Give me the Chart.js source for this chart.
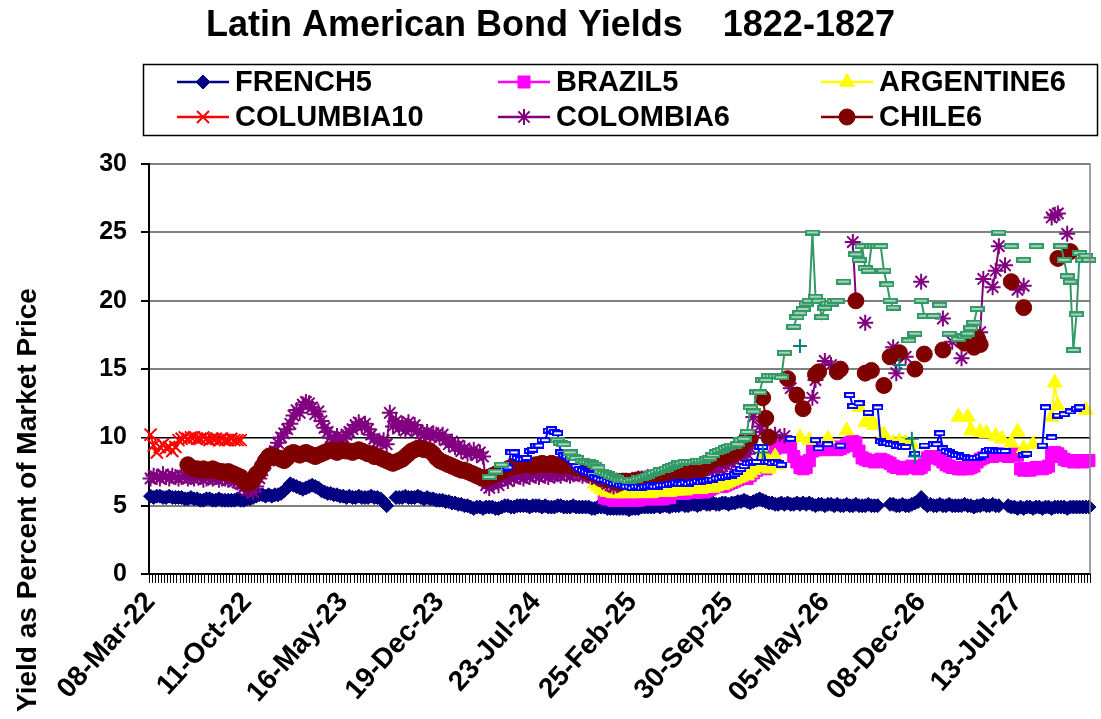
<!DOCTYPE html>
<html><head><meta charset="utf-8">
<script src="https://cdn.jsdelivr.net/npm/chart.js@4.4.1/dist/chart.umd.min.js"></script>
<style>html,body{margin:0;padding:0;background:#fff;}</style>
</head><body>
<canvas id="c" width="1101" height="719"></canvas>
<script>
const _ = null;
const chartTitle = 'Latin American Bond Yields    1822-1827';
const yAxisTitle = 'Yield as Percent of Market Price';
const firstWeekUTC = [1822, 2, 8];   // 08-Mar-1822, weekly quotations
const weekCount = 303;
const labelEvery = 31;
const yTickValues = [0, 5, 10, 15, 20, 25, 30];

// ---- series: first week index + weekly yields (null = no quotation) ----
const french5Start = 0;
const french5 = [
5.7,5.6,5.7,5.7,5.6,5.6,5.7,5.6,5.6,5.6,
5.6,5.5,5.5,5.6,5.5,5.5,5.4,5.4,5.5,5.5,
5.4,5.4,5.5,5.4,5.4,5.4,5.4,5.4,5.5,5.4,
5.4,5.5,5.5,5.6,5.7,5.8,5.8,5.7,5.8,5.7,
5.8,5.8,5.9,6.1,6.3,6.6,6.5,6.4,6.3,6.2,
6.3,6.4,6.5,6.4,6.3,6.1,6.0,5.9,5.9,5.8,
5.8,5.7,5.7,5.6,5.7,5.6,5.6,5.7,5.6,5.6,
5.6,5.7,5.6,5.6,5.5,5.3,5.0,_,_,5.6,
5.6,5.6,5.7,5.6,5.6,5.6,5.7,5.6,5.5,5.6,
5.5,5.5,5.4,5.4,5.4,5.3,5.3,5.2,5.2,5.1,
5.1,5.0,5.0,4.9,4.8,4.9,4.9,4.8,4.9,4.9,
4.9,4.8,4.8,4.9,5.0,5.0,4.9,4.9,5.0,5.0,
5.0,5.0,4.9,5.0,5.0,5.0,4.9,5.0,4.9,4.9,
4.9,5.0,5.0,4.9,4.9,4.9,5.0,4.9,4.9,4.9,
4.9,4.9,4.8,4.8,4.9,4.9,4.9,4.8,4.8,4.8,
4.8,4.8,4.8,4.8,4.7,4.8,4.8,4.8,4.9,4.9,
4.9,4.9,4.9,5.0,4.9,5.0,5.0,4.9,5.0,5.0,
5.0,5.1,5.0,5.0,5.1,5.1,5.0,5.1,5.2,5.1,
5.1,5.2,5.1,5.1,5.2,5.2,5.1,5.2,5.2,5.3,
5.3,5.4,5.3,5.2,5.3,5.4,5.5,5.4,5.3,5.2,
5.2,5.1,5.1,5.2,5.1,5.2,5.1,5.1,5.2,5.1,
5.2,5.1,5.2,5.1,5.0,5.1,5.1,5.0,5.1,5.1,
5.0,5.1,5.0,5.0,5.1,5.0,5.0,5.1,5.0,5.0,
5.0,5.1,5.0,5.0,5.0,_,_,_,5.1,5.1,
5.0,5.0,5.1,5.0,5.0,5.1,5.2,5.3,5.6,5.2,
5.0,5.1,5.0,5.0,5.1,5.0,5.0,5.1,5.0,5.0,
5.0,5.0,5.1,5.0,5.0,4.9,5.0,5.0,5.1,5.0,
5.0,5.1,5.0,5.0,_,_,5.0,4.9,4.9,4.8,
4.9,4.8,4.9,4.9,4.8,4.9,4.9,4.8,4.9,4.9,
4.8,4.9,4.9,4.9,4.9,4.8,4.9,4.9,4.9,4.9,
4.9,4.9,4.9
];

const brazil5Start = 146;
const brazil5 = [
5.6,5.5,5.5,5.4,
5.4,5.5,5.4,5.4,5.5,5.5,5.4,5.4,5.5,5.5,
5.6,5.5,5.5,5.6,5.5,5.5,5.6,5.6,5.9,5.9,
6.0,6.0,5.9,6.0,6.1,6.0,6.0,6.1,6.0,6.1,
6.2,6.3,6.4,6.5,6.4,6.5,6.6,6.7,6.8,6.9,
7.0,7.1,7.0,7.2,7.4,7.6,7.8,7.8,7.7,8.0,
8.6,9.2,9.3,9.4,9.3,9.5,9.3,8.6,8.2,7.8,
7.7,7.8,8.3,9.0,9.1,9.2,9.2,9.1,9.2,9.3,
9.2,9.1,9.2,9.3,9.4,9.6,9.7,9.6,9.0,8.5,
8.4,8.3,8.3,8.2,8.3,8.4,8.3,8.2,8.1,7.9,
7.8,7.8,7.7,7.8,7.8,7.9,7.8,7.7,7.8,8.0,
8.5,8.6,8.6,8.5,8.4,8.2,8.0,7.9,7.8,7.8,
7.7,7.7,7.8,7.7,7.8,7.9,8.2,8.4,8.5,8.6,
8.7,8.6,8.7,8.8,8.7,8.7,8.6,8.7,8.8,8.7,
7.7,7.6,7.7,7.6,7.7,7.8,7.8,7.7,7.8,7.9,
8.8,8.9,8.8,8.6,8.4,8.3,8.3,8.2,8.3,8.3,
8.2,8.3,8.3
];

const argentine6Start = 143;
const argentine6 = [
6.6,6.4,6.2,6.1,6.0,6.0,5.9,
5.9,5.9,6.0,5.9,5.9,6.0,5.9,5.9,6.0,6.0,
6.0,5.9,6.0,6.0,6.0,6.1,6.0,6.0,6.1,6.1,
6.1,6.2,6.1,6.2,6.2,6.2,6.3,6.2,6.3,6.3,
6.4,6.3,6.4,6.5,6.5,6.6,6.7,6.8,6.9,7.0,
7.1,7.3,7.2,7.4,7.6,7.8,8.3,7.9,8.6,7.7,
8.2,8.6,8.0,_,_,_,_,_,_,10.0,
_,_,9.8,_,_,_,_,_,9.9,_,
_,_,_,_,10.5,_,_,_,12.2,_,
11.1,_,11.2,10.9,_,_,10.2,9.8,_,9.6,
_,9.7,_,9.6,_,9.5,_,_,_,_,
_,_,_,_,_,_,_,_,_,_,
11.5,_,_,11.5,10.5,_,_,10.4,_,10.3,
_,_,10.1,_,9.9,_,_,9.6,_,10.4,
_,9.2,_,_,9.5,_,_,_,_,_,
11.5,14.0,12.3,_,_,_,_,_,_,_,
_,12.0
];

const columbia10Start = 0;
const columbia10 = [
10.2,9.4,8.9,9.3,9.5,9.2,9.3,9.0,9.3,9.8,
9.9,10.0,9.9,10.0,10.0,9.9,9.9,10.0,9.9,9.8,
9.9,9.9,9.8,9.9,9.8,9.8,9.9,9.8,9.8,9.8
];

const colombia6Start = 0;
const colombia6 = [
7.0,7.2,7.1,7.0,7.3,7.1,7.0,7.2,7.1,7.0,
7.1,7.2,7.0,7.1,7.0,7.2,7.1,6.9,7.0,7.1,
7.0,7.1,6.9,7.0,7.0,6.9,7.0,6.8,6.7,6.6,
6.3,6.1,6.2,6.0,6.4,7.0,7.6,8.1,8.3,8.8,
9.0,9.6,10.0,10.3,10.6,11.0,11.6,12.0,11.8,12.4,
12.6,12.5,12.2,11.7,11.9,11.2,10.7,10.4,10.0,9.9,
10.1,9.8,10.0,10.2,10.4,10.6,10.9,11.1,10.8,11.0,
10.6,10.2,9.9,9.7,9.6,9.8,9.5,11.8,10.8,11.2,
10.7,11.0,10.5,11.1,10.6,10.9,10.5,10.3,10.2,10.4,
10.1,10.3,10.2,10.0,10.2,9.8,9.5,9.7,9.3,9.4,
9.0,9.2,8.8,8.9,9.1,8.7,8.9,8.6,6.5,6.3,
6.6,6.8,6.5,6.9,7.0,6.8,7.1,7.0,7.2,7.1,
7.0,7.2,7.1,7.3,7.2,7.1,7.3,7.2,7.1,7.3,
7.2,7.3,7.2,7.4,7.3,7.2,7.3,7.4,7.3,7.2,
7.3,7.2,7.1,7.2,7.0,6.9,6.8,6.6,6.5,6.4,
6.5,6.6,6.7,6.8,6.8,6.9,6.9,7.0,7.0,7.0,
7.1,7.1,7.0,7.1,7.2,7.1,7.2,7.3,7.2,7.3,
7.4,7.5,7.6,7.5,7.6,7.5,7.6,7.7,7.6,7.7,
7.8,7.7,7.8,7.8,7.9,8.0,8.2,8.1,8.4,8.6,
8.8,8.9,8.8,9.2,11.5,_,10.8,10.4,_,_,
_,10.2,_,_,10.1,_,13.6,_,_,_,
_,_,_,12.9,14.2,_,_,15.6,_,15.3,
_,_,_,_,_,_,24.3,20.0,_,_,
18.4,_,_,_,_,_,_,_,_,16.6,
14.7,_,_,15.9,_,_,_,_,21.4,_,
_,_,_,_,_,18.7,_,_,17.0,_,
_,15.8,_,_,_,_,_,17.7,21.6,_,
_,21.0,22.2,24.0,_,22.6,_,_,_,20.8,
_,21.1,_,_,_,_,_,_,_,_,
26.1,26.3,26.4,_,_,24.9
];

const chile6Start = 12;
const chile6 = [
8.0,7.8,7.7,7.7,7.6,7.7,7.6,7.6,
7.7,7.6,7.5,7.5,7.4,7.5,7.4,7.3,7.2,7.1,
6.8,6.6,6.7,6.9,7.3,7.5,7.9,8.3,8.6,8.7,
8.6,8.5,8.4,8.3,8.5,8.8,8.9,8.8,8.7,8.8,
8.9,8.8,8.7,8.6,8.7,8.8,8.9,9.0,9.1,9.0,
8.9,9.0,9.1,9.0,9.0,8.9,9.0,9.1,9.0,8.9,
8.8,8.8,8.6,8.6,8.5,8.4,8.3,8.2,8.1,8.2,
8.3,8.4,8.6,8.8,9.0,9.1,9.2,9.2,9.1,9.1,
9.0,8.8,8.5,8.3,8.2,8.1,8.0,7.9,7.8,7.7,
7.6,7.6,7.5,7.4,7.3,7.2,7.1,7.0,7.0,7.1,
7.2,7.3,7.4,7.5,7.6,7.7,7.8,7.9,8.0,7.9,
8.0,8.1,8.0,7.9,8.0,8.0,8.1,8.0,8.0,8.1,
8.0,8.0,7.9,8.0,8.0,7.9,7.9,7.8,7.8,7.7,
7.6,7.5,7.4,7.3,7.2,7.1,7.0,6.9,6.9,6.8,
6.8,6.7,6.8,6.8,6.7,6.8,6.8,6.9,6.8,6.8,
6.9,6.9,7.0,7.0,7.1,7.1,7.2,7.3,7.2,7.3,
7.4,7.3,7.4,7.4,7.5,7.5,7.5,7.6,7.8,8.0,
8.2,8.4,8.5,8.6,8.5,8.6,8.7,8.8,8.8,9.0,
9.3,9.6,10.0,9.9,_,_,_,12.9,11.4,10.0,
_,_,_,_,_,14.3,_,_,13.1,_,
12.1,_,_,_,14.6,14.8,_,_,_,_,
_,14.8,15.0,_,_,_,_,20.0,_,_,
14.7,_,14.9,_,_,_,13.8,_,15.9,_,
_,16.2,_,_,_,_,15.0,_,_,16.1,
_,_,_,_,_,16.4,_,_,_,_,
_,_,16.9,_,17.0,16.6,17.3,16.8,_,_,
_,_,_,_,_,_,_,21.4,_,_,
_,19.5,_,_,_,_,_,_,_,_,
_,_,23.1,_,_,_,23.6
];

// further series drawn in the plot (not listed in the legend box)
const blueStart = 113;
const blueSeries = [
8.0,7.7,7.8,8.9,8.9,8.5,8.4,
8.4,8.5,9.0,9.1,9.4,9.4,9.8,9.8,10.5,10.6,
10.4,10.3,8.9,8.7,8.6,8.4,8.2,7.9,7.7,7.6,
7.5,7.4,7.3,7.1,7.0,6.9,6.9,6.8,6.7,6.6,
6.6,6.5,6.5,6.4,6.4,6.3,6.4,6.4,6.3,6.4,
6.4,6.5,6.4,6.4,6.5,6.5,6.5,6.6,6.6,6.7,
6.6,6.6,6.7,6.6,6.7,6.7,6.8,6.7,6.8,6.8,
6.9,6.9,7.0,7.0,7.1,7.1,7.2,7.2,7.3,7.5,
7.7,7.9,8.1,8.1,8.2,8.2,9.3,9.3,8.2,8.2,
8.1,8.2,8.1,8.0,_,_,9.9,_,_,_,
_,_,_,_,9.8,9.2,_,_,9.5,_,
_,_,9.4,_,_,13.1,12.3,_,12.5,_,
_,11.8,_,_,12.2,9.7,9.6,9.6,9.5,9.5,
9.4,9.4,9.3,9.3,_,_,8.8,_,_,9.4,
_,_,9.5,9.5,10.3,9.2,9.0,8.9,8.8,8.7,
8.7,8.6,8.6,8.5,8.5,8.5,8.5,8.6,8.7,9.0,
9.1,9.1,9.0,9.0,9.0,9.0,_,_,_,_,
_,8.7,8.8,_,_,_,_,9.4,12.2,_,
10.0,_,11.6,_,11.7,_,11.9,_,12.1,12.2
];

const greenStart = 109;
const greenSeries = [
7.1,_,7.5,_,8.0,_,_,_,_,_,_,
_,_,_,_,_,_,_,_,_,_,
_,9.8,9.6,9.5,_,8.9,8.6,8.5,_,8.3,
8.2,8.2,8.1,8.0,7.8,7.5,7.4,7.3,7.2,7.1,
7.0,6.9,6.9,6.9,6.8,6.9,6.9,7.0,7.0,7.1,
7.2,7.3,7.4,7.5,7.6,7.6,7.7,7.8,7.9,8.0,
8.1,8.1,8.2,8.2,8.2,8.2,8.3,8.3,8.3,8.4,
8.5,8.7,8.9,9.0,9.1,9.2,9.3,9.4,9.4,9.5,
9.8,9.9,10.4,12.2,11.9,13.3,13.3,14.2,14.2,14.5,
14.5,14.5,14.5,14.4,16.2,_,_,18.1,18.8,19.1,
19.4,19.8,20.0,25.0,20.3,20.0,18.8,19.5,19.8,19.8,
20.0,20.0,_,21.4,_,_,_,23.4,23.0,24.0,
22.4,22.2,24.0,24.0,24.0,24.0,22.2,21.2,20.0,19.5,
_,_,_,_,17.1,_,17.6,_,20.0,18.9,
_,_,18.9,_,19.7,_,_,17.6,_,_,
17.2,_,17.4,17.6,18.0,18.4,19.4,_,_,_,
_,_,_,25.0,_,_,_,24.0,_,_,
_,23.0,_,_,_,24.0,_,_,_,_,
_,_,_,24.0,23.0,21.8,21.4,16.4,19.0,23.5,
23.0,23.3,23.0
];

const tealPoints = [[197, 8.9], [209, 16.7], [241, 15.3], [245, 9.9], [246, 8.6]];

// ---- build categories and full-length series ----
const monthNames = ['Jan','Feb','Mar','Apr','May','Jun','Jul','Aug','Sep','Oct','Nov','Dec'];
const categories = [];
const t0 = Date.UTC(firstWeekUTC[0], firstWeekUTC[1], firstWeekUTC[2]);
for (let i = 0; i < weekCount; i++) {
  const d = new Date(t0 + i * 7 * 86400000);
  categories.push(String(d.getUTCDate()).padStart(2, '0') + '-' + monthNames[d.getUTCMonth()] + '-' + String(d.getUTCFullYear()).slice(2));
}
function weekly(start, values) {
  const out = new Array(weekCount).fill(null);
  values.forEach((v, i) => { if (start + i < weekCount) out[start + i] = v; });
  return out;
}
function fromPairs(pairs) {
  const out = new Array(weekCount).fill(null);
  pairs.forEach(([w, v]) => { out[w] = v; });
  return out;
}
function dashMarker(w, h, stroke, fill) {
  const c = document.createElement('canvas');
  c.width = w; c.height = h;
  const g = c.getContext('2d');
  g.fillStyle = fill; g.fillRect(0, 0, w, h);
  g.strokeStyle = stroke; g.lineWidth = 2; g.strokeRect(1, 1, w - 2, h - 2);
  return c;
}

const FONT = "'Liberation Sans', Arial, Helvetica, sans-serif";
Chart.defaults.font.family = FONT;
Chart.defaults.color = '#000';

function series(label, data, color, style, radius, bw, order, inLegend, fill) {
  return {
    label, data, order, inLegend,
    borderColor: color, backgroundColor: color,
    pointStyle: style, pointRadius: radius, pointHoverRadius: radius,
    pointBackgroundColor: fill || color, pointBorderColor: color, pointBorderWidth: bw,
    borderWidth: 2, tension: 0, spanGaps: false, clip: false
  };
}

const datasets = [
  series('FRENCH5', weekly(french5Start, french5), '#000080', 'rectRot', 7, 1, 9, true),
  series('BRAZIL5', weekly(brazil5Start, brazil5), '#FF00FF', 'rect', 8.5, 1, 8, true),
  series('ARGENTINE6', weekly(argentine6Start, argentine6), '#FFFF00', 'triangle', 8.5, 1, 7, true),
  series('COLUMBIA10', weekly(columbia10Start, columbia10), '#FF0000', 'crossRot', 8.5, 2, 6, true),
  series('COLOMBIA6', weekly(colombia6Start, colombia6), '#800080', 'star', 8, 2, 5, true),
  series('CHILE6', weekly(chile6Start, chile6), '#800000', 'circle', 8, 1, 4, true),
  series('BLUE', weekly(blueStart, blueSeries), '#0000FF', dashMarker(11, 6, '#0000FF', '#ffffff'), 5, 1, 3, false),
  series('GREEN', weekly(greenStart, greenSeries), '#339966', dashMarker(15, 6, '#339966', '#a6d4b8'), 5, 1, 2, false),
  series('TEAL', fromPairs(tealPoints), '#008080', 'cross', 7, 2, 1, false)
];

const boxLegend = {
  id: 'boxLegend',
  afterDraw(chart) {
    const ctx = chart.ctx;
    ctx.save();
    ctx.strokeStyle = '#000'; ctx.lineWidth = 1.5;
    ctx.strokeRect(143.5, 64.5, 954, 71);
    const cols = [177, 498, 821], rows = [82, 117];
    let k = 0;
    chart.data.datasets.forEach(ds => {
      if (!ds.inLegend) return;
      const x = cols[k % 3], y = rows[Math.floor(k / 3)];
      ctx.strokeStyle = ds.borderColor; ctx.lineWidth = 2.5;
      ctx.beginPath(); ctx.moveTo(x, y); ctx.lineTo(x + 52, y); ctx.stroke();
      ctx.fillStyle = ds.pointBackgroundColor; ctx.strokeStyle = ds.pointBorderColor; ctx.lineWidth = ds.pointBorderWidth;
      Chart.helpers.drawPoint(ctx, { pointStyle: ds.pointStyle, radius: ds.pointRadius, rotation: 0, borderWidth: ds.pointBorderWidth }, x + 26, y);
      ctx.fillStyle = '#000';
      ctx.font = 'bold 29px ' + FONT;
      ctx.textAlign = 'left'; ctx.textBaseline = 'middle';
      ctx.fillText(ds.label, x + 58, y + 1);
      k++;
    });
    // y axis title
    ctx.save();
    ctx.translate(28, 500);
    ctx.rotate(-Math.PI / 2);
    ctx.font = 'bold 28px ' + FONT;
    ctx.textAlign = 'center'; ctx.textBaseline = 'middle';
    ctx.fillText(yAxisTitle, 0, 0);
    ctx.restore();
    // plot area right border
    const a = chart.chartArea;
    ctx.strokeStyle = '#808080'; ctx.lineWidth = 1.5;
    ctx.beginPath(); ctx.moveTo(a.right - 0.5, a.top); ctx.lineTo(a.right - 0.5, a.bottom); ctx.stroke();
    ctx.restore();
  }
};

new Chart(document.getElementById('c'), {
  type: 'line',
  data: { labels: categories, datasets },
  plugins: [boxLegend],
  options: {
    responsive: false,
    animation: false,
    events: [],
    layout: { padding: { left: 0, right: 0, top: 0, bottom: 0 } },
    plugins: {
      legend: { display: false },
      tooltip: { enabled: false },
      title: {
        display: true, text: chartTitle, color: '#000',
        font: { size: 36, weight: 'bold', family: FONT },
        padding: { top: 4, bottom: 117 }
      }
    },
    scales: {
      x: {
        type: 'category',
        offset: true,
        grid: { display: true, drawOnChartArea: false, drawTicks: true, tickLength: 9, color: '#000', lineWidth: 1, offset: true },
        border: { display: true, color: '#000', width: 2 },
        ticks: {
          autoSkip: false, maxRotation: 48, minRotation: 48, padding: 3, color: '#000',
          font: { size: 28, weight: 'bold', family: FONT },
          callback: function (v, i) { return i % labelEvery === 0 ? this.getLabelForValue(v) : ''; }
        },
        afterFit: s => { s.height = 145; s.paddingLeft = 0; s.paddingRight = 0; }
      },
      y: {
        min: 0, max: 30,
        afterBuildTicks: s => { s.ticks = yTickValues.map(v => ({ value: v })); },
        ticks: { padding: 14, color: '#000', font: { size: 25, weight: 'bold', family: FONT } },
        grid: {
          color: c => (c.tick && c.tick.value === 10) ? '#000' : '#808080',
          lineWidth: c => (c.tick && c.tick.value === 10) ? 1.5 : 2,
          tickColor: '#000', tickLength: 8, drawTicks: true
        },
        border: { display: true, color: '#000', width: 2 },
        afterFit: s => { s.width = 149; s.paddingTop = 0; s.paddingBottom = 0; }
      }
    }
  }
});
</script>
</body></html>
